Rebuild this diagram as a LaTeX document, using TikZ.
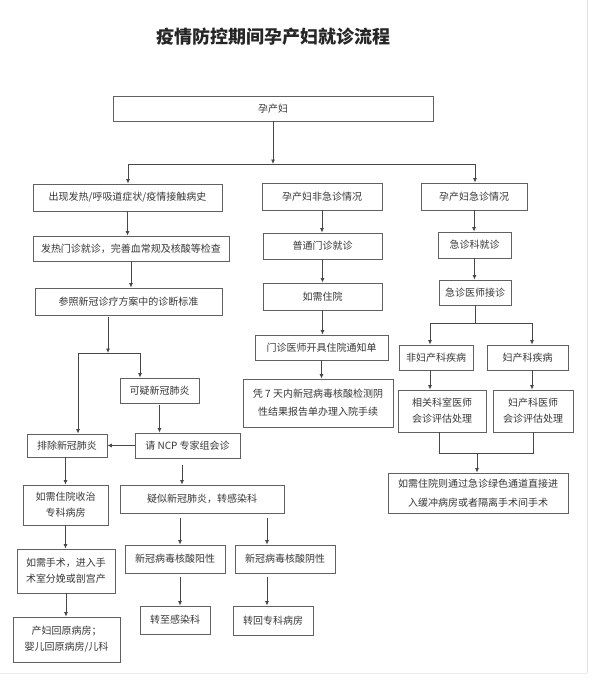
\documentclass[tikz,border=0pt]{standalone}
\usepackage{fontspec}
\newfontfamily\cjk{Noto Sans CJK SC}
\usetikzlibrary{arrows.meta}
\begin{document}
\begin{tikzpicture}[x=1pt,y=-1pt,
  box/.style={draw=black!62, line width=0.8pt, fill=white, text=black!78,
    font=\cjk\fontsize{10}{16}\selectfont, align=center, inner sep=0pt},
  wh/.style 2 args={minimum width=#1pt, minimum height=#2pt},
  arr/.style={draw=black!72, line width=0.8pt, -{Latex[length=4.5pt,width=4pt]}},
  ln/.style={draw=black!72, line width=0.8pt}]
\useasboundingbox[fill=white] (0,0) rectangle (592,683);
\draw[black!12, line width=1pt] (587,0) -- (587,673);
\draw[black!8, line width=1pt] (0,673) -- (587,673);
% title
\node[font=\cjk\bfseries\fontsize{18}{20}\selectfont, text=black!85] (title) at (273.5,37) {疫情防控期间孕产妇就诊流程};
% top
\node[box,wh={320}{25}] (A) at (273,108.5) {孕产妇};
% left column
\node[box,wh={189}{27}] (B1) at (127.5,197.5) {出现发热/呼吸道症状/疫情接触病史};
\node[box,wh={196}{25}] (B2) at (131,248.5) {发热门诊就诊，完善血常规及核酸等检查};
\node[box,wh={187}{27}] (B3) at (128.5,301.5) {参照新冠诊疗方案中的诊断标准};
\node[box,wh={79}{25}] (Q) at (159.5,390.5) {可疑新冠肺炎};
\node[box,wh={105}{25}] (N) at (187.5,445.5) {请 NCP 专家组会诊};
\node[box,wh={80}{23}] (E) at (67,445.5) {排除新冠肺炎};
\node[box,wh={85}{40}] (F) at (65.5,505) {如需住院收治\\专科病房};
\node[box,wh={98}{44}] (G) at (66,571) {如需手术，进入手\\术室分娩或剖宫产};
\node[box,wh={107}{45}] (H) at (66.5,639.5) {产妇回原病房；\\婴儿回原病房/儿科};
\node[box,wh={164}{28}] (S) at (202,499) {疑似新冠肺炎，转感染科};
\node[box,wh={100}{28}] (P) at (175,559) {新冠病毒核酸阳性};
\node[box,wh={100}{28}] (Ng) at (285,559) {新冠病毒核酸阴性};
\node[box,wh={70}{28}] (T1) at (175,620) {转至感染科};
\node[box,wh={80}{29}] (T2) at (273,620.5) {转回专科病房};
% middle column
\node[box,wh={120}{27}] (M1) at (322,196.5) {孕产妇非急诊情况};
\node[box,wh={119}{26}] (M2) at (322.5,246) {普通门诊就诊};
\node[box,wh={119}{27}] (M3) at (322.5,296.5) {如需住院};
\node[box,wh={133}{25}] (M4) at (321.5,347.5) {门诊医师开具住院通知单};
\node[box,wh={150}{48},font=\cjk\fontsize{10}{18}\selectfont] (M5) at (318,403) {凭 7 天内新冠病毒核酸检测阴\\性结果报告单办理入院手续};
% right column
\node[box,wh={106}{27}] (R1) at (474,196.5) {孕产妇急诊情况};
\node[box,wh={73}{26}] (R2) at (474.5,245) {急诊科就诊};
\node[box,wh={72}{25}] (R3) at (475,292.5) {急诊医师接诊};
\node[box,wh={74}{25}] (R4) at (436,357.5) {非妇产科疾病};
\node[box,wh={81}{25}] (R5) at (527.5,357.5) {妇产科疾病};
\node[box,wh={88}{42}] (R6) at (442,411) {相关科室医师\\会诊评估处理};
\node[box,wh={80}{42}] (R7) at (533,411) {妇产科医师\\会诊评估处理};
\node[box,wh={180}{40},font=\cjk\fontsize{10}{19}\selectfont] (R8) at (478,493) {如需住院则通过急诊绿色通道直接进\\入缓冲病房或者隔离手术间手术};
% top connectors
\coordinate (t0) at (273,164);
\coordinate (tL) at (128,164);
\coordinate (tR) at (475,164);
\draw[arr] (A.south) -- (t0);
\draw[ln] (tL) -- (tR);
\draw[arr] (tL) -- (tL |- B1.north);
\draw[arr] (tR) -- (tR |- R1.north);
% left connectors
\draw[arr] (B1.south) -- (B1.south |- B2.north);
\draw[arr] (B2.south) -- (B2.south |- B3.north);
\coordinate (s0) at (108,353);
\coordinate (sL) at (78,353);
\coordinate (sR) at (140,353);
\draw[arr, shorten <=2pt] (B3.south -| s0) -- (s0);
\draw[ln] (sL) -- (sR);
\draw[arr] (sL) -- (sL |- E.north);
\draw[arr] (sR) -- (sR |- Q.north);
\draw[arr, shorten <=2pt] (Q.south) -- (Q.south |- N.north);
\draw[arr] (N.west) -- (E.east);
\draw[arr] (F.north |- E.south) -- (F.north);
\draw[arr] (F.south) -- (F.south |- G.north);
\draw[arr] (G.south) -- (G.south |- H.north);
\coordinate (nx) at (182,0);
\coordinate (px) at (180,0);
\coordinate (qx) at (267,0);
\draw[arr, shorten <=7pt] (N.south -| nx) -- (S.north -| nx);
\draw[arr, shorten <=5pt] (S.south -| px) -- (P.north -| px);
\draw[arr, shorten <=5pt] (S.south -| qx) -- (Ng.north -| qx);
\draw[arr, shorten <=4pt] (P.south -| px) -- (T1.north -| px);
\draw[arr, shorten <=4pt] (Ng.south -| qx) -- (T2.north -| qx);
% middle connectors
\draw[arr] (M1.south) -- (M1.south |- M2.north);
\draw[arr] (M2.south) -- (M2.south |- M3.north);
\draw[arr] (M3.south) -- (M3.south |- M4.north);
\draw[arr] (M4.south) -- (M4.south |- M5.north);
% right connectors
\draw[arr] (R1.south) -- (R1.south |- R2.north);
\draw[arr] (R2.south) -- (R2.south |- R3.north);
\coordinate (rL) at (430,323);
\coordinate (rR) at (532,323);
\draw[ln] (R3.south) -- (R3.south |- rL);
\draw[ln] (rL) -- (rR);
\draw[arr] (rL) -- (rL |- R4.north);
\draw[arr] (rR) -- (rR |- R5.north);
\draw[arr] (R4.south -| rL) -- (R6.north -| rL);
\draw[arr] (R5.south -| rR) -- (R7.north -| rR);
\coordinate (mL) at (439,453);
\coordinate (mR) at (533,453);
\coordinate (mC) at (477,453);
\draw[ln] (R6.south -| mL) -- (mL) -- (mR) -- (R7.south -| mR);
\draw[arr] (mC) -- (mC |- R8.north);
\end{tikzpicture}
\end{document}
